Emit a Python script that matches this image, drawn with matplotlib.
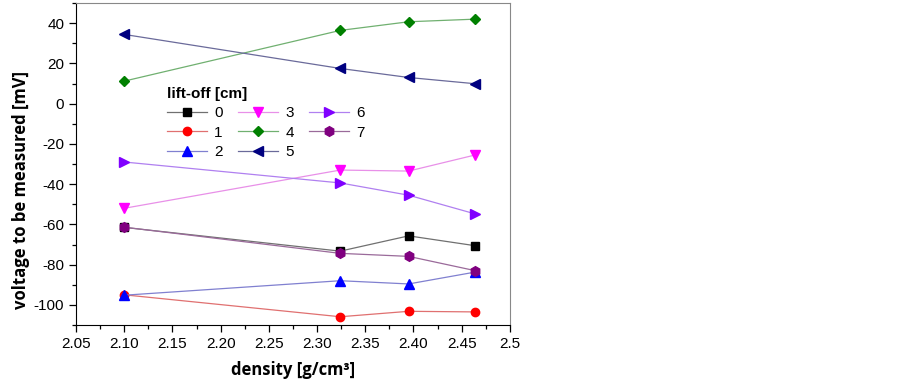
import matplotlib.pyplot as plt
from matplotlib.ticker import MultipleLocator

plt.rcParams['axes.unicode_minus'] = False
plt.rcParams['font.family'] = ['Liberation Sans', 'DejaVu Sans']

density = [2.100, 2.324, 2.395, 2.464]
lift_off = ['0', '1', '2', '3', '4', '5', '6', '7']
voltage = [
    [-61.5, -73.3, -65.7, -70.6],
    [-95.0, -105.9, -103.2, -103.5],
    [-95.2, -88.0, -89.6, -83.7],
    [-52.0, -33.0, -33.5, -25.5],
    [11.2, 36.4, 40.7, 42.0],
    [34.4, 17.5, 13.0, 9.9],
    [-29.0, -39.4, -45.5, -54.8],
    [-61.4, -74.4, -75.9, -83.0],
]
x_ticks = [2.05, 2.10, 2.15, 2.20, 2.25, 2.30, 2.35, 2.40, 2.45, 2.50]
x_labels = ['2.05', '2.10', '2.15', '2.20', '2.25', '2.30', '2.35', '2.40', '2.45', '2.5']

markers = ['s', 'o', '^', 'v', 'D', '<', '>', 'h']
mcolors = ['black', 'red', 'blue', '#ff00ff', '#008000', '#000080', '#8000ff', '#800080']
lcolors = ['#707070', '#e07070', '#8080d0', '#e890e8', '#70b070', '#6a6a9a', '#b080f0', '#9a6a9a']
msizes = [5.5, 6, 7, 7, 5.5, 7, 7, 7]

fig = plt.figure(figsize=(9.02, 3.81), dpi=100)
ax = fig.add_axes([0.0843, 0.147, 0.481, 0.845])

for i in range(len(lift_off)):
    ax.plot(density, voltage[i], color=lcolors[i], lw=0.9, marker=markers[i],
            markersize=msizes[i], markerfacecolor=mcolors[i],
            markeredgecolor=mcolors[i], label=lift_off[i])

ax.set_xlim(2.05, 2.5)
ax.set_ylim(-110, 50)
ax.set_xticks(x_ticks, x_labels)
ax.xaxis.set_minor_locator(MultipleLocator(0.025))
ax.yaxis.set_major_locator(MultipleLocator(20))
ax.yaxis.set_minor_locator(MultipleLocator(10))
ax.tick_params(axis='both', which='major', labelsize=11, length=5, width=0.9)
ax.tick_params(axis='both', which='minor', length=3, width=0.9)
for s in ['top', 'right']:
    ax.spines[s].set_color('#888888')

ax.set_xlabel('density [g/cm³]', fontsize=12, fontweight='bold', family='Open Sans', labelpad=7)
ax.set_ylabel('voltage to be measured [mV]', fontsize=12, fontweight='bold', family='Open Sans')
ax.yaxis.set_label_coords(-0.105, 0.42)

leg = ax.legend(ncol=3, loc='upper left', bbox_to_anchor=(0.185, 0.772), frameon=False,
                title='lift-off [cm]', alignment='left', fontsize=11,
                handlelength=2.6, handletextpad=0.5, columnspacing=1.0,
                labelspacing=0.35, borderpad=0.2)
leg.get_title().set_fontweight('bold')
leg.get_title().set_fontsize(11)

fig.savefig('out.png', dpi=100)
